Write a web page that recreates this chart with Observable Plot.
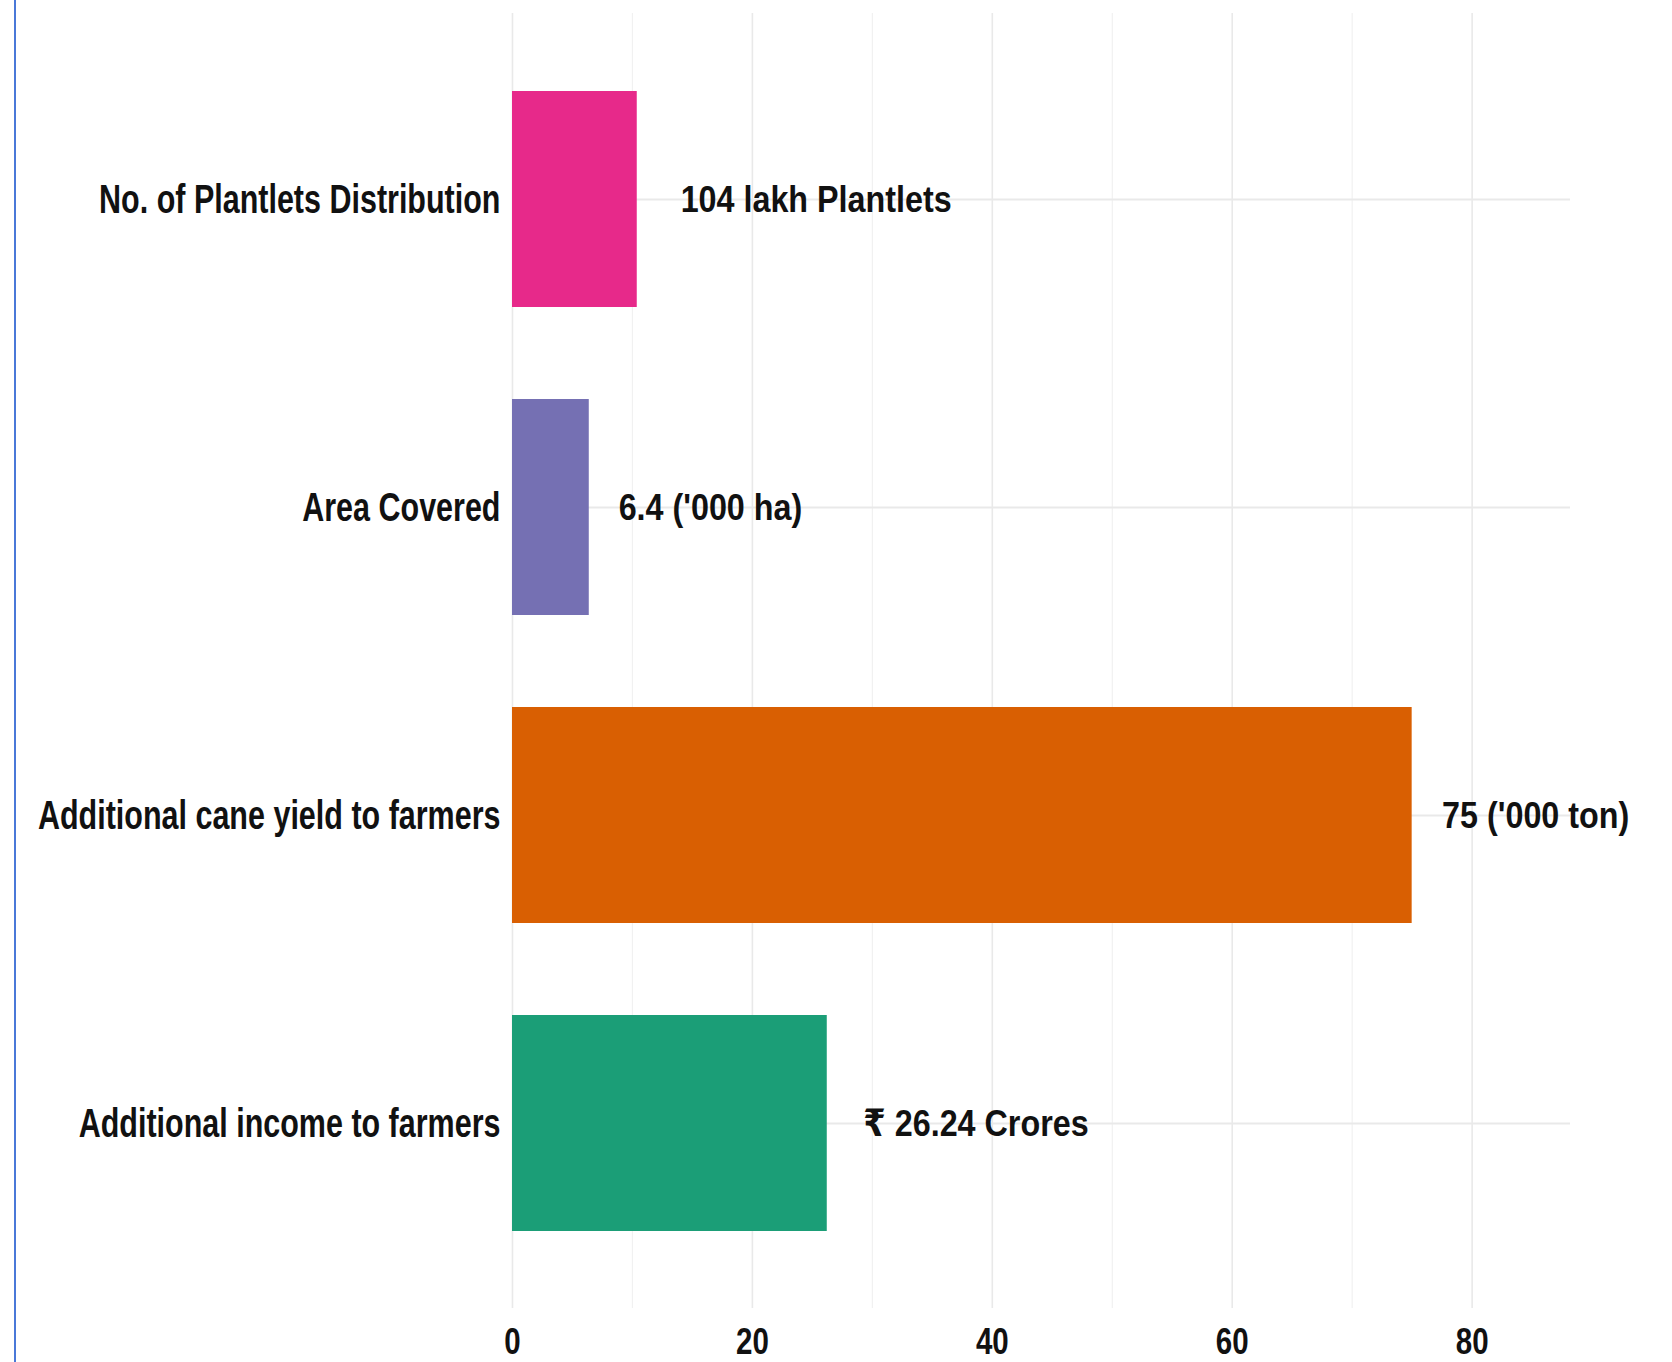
<!DOCTYPE html>
<html>
<head>
<meta charset="utf-8">
<script src="https://cdn.jsdelivr.net/npm/d3@7"></script>
<script src="https://cdn.jsdelivr.net/npm/@observablehq/plot@0.6"></script>
<style>
  html, body { margin: 0; padding: 0; background: #ffffff; }
  #wrap { position: relative; width: 1672px; height: 1362px; overflow: hidden; background: #fff; }
  #edge { position: absolute; left: 14px; top: 0; width: 2px; height: 1362px; background: #4a78d8; z-index: 2; }
  #wrap svg { position: absolute; left: 0; top: 0; z-index: 1; }
</style>
</head>
<body>
<div id="wrap"><div id="edge"></div></div>
<script>
const categories = [
  "No. of Plantlets Distribution",
  "Area Covered",
  "Additional cane yield to farmers",
  "Additional income to farmers"
];
const values = [10.4, 6.4, 75, 26.24];
const valueLabels = ["104 lakh Plantlets", "6.4 ('000 ha)", "75 ('000 ton)", "\u20B9 26.24 Crores"];
const barColors = ["#e7298a", "#7570b3", "#d95f02", "#1b9e77"];
const xTicks = [0, 20, 40, 60, 80];
const xMinorTicks = [10, 30, 50, 70];

const data = categories.map((c, i) => ({category: c, value: values[i], label: valueLabels[i]}));

const chart = Plot.plot({
  width: 1672,
  height: 1362,
  marginLeft: 512,
  marginRight: 102,
  marginTop: 13,
  marginBottom: 54,
  style: {background: "white", fontFamily: "'Liberation Sans', Arial, 'DejaVu Sans', sans-serif", color: "#111"},
  x: {domain: [0, 88.2]},
  y: {domain: categories, paddingInner: 0.3, paddingOuter: 0.25},
  color: {domain: categories, range: barColors},
  marks: [
    Plot.ruleX(xMinorTicks, {stroke: "#f1f1f1", strokeWidth: 1.2}),
    Plot.gridX(xTicks, {stroke: "#e9e9e9", strokeOpacity: 1, strokeWidth: 1.6}),
    Plot.gridY({stroke: "#e9e9e9", strokeOpacity: 1, strokeWidth: 1.8}),
    Plot.barX(data, {x: "value", y: "category", fill: "category"}),
    Plot.text(data, {x: "value", y: "category", text: "label", textAnchor: "start",
      fontSize: 32.3, fontWeight: "bold", fill: "#111"}),
    Plot.axisY({tickSize: 0, tickPadding: 12, fontSize: 30.5, fontWeight: "bold", label: null, fill: "#111"}),
    Plot.axisX(xTicks, {tickSize: 0, tickPadding: 22, fontSize: 29.5, fontWeight: "bold", label: null, fill: "#111"})
  ]
});

document.getElementById("wrap").appendChild(chart);

function stretch(selector, k, shiftFrac) {
  chart.querySelectorAll(selector).forEach(t => {
    const b = t.getBBox();
    const cy = b.y + b.height / 2;
    const dx = (shiftFrac || 0) * b.width;
    const tr = t.getAttribute("transform") || "";
    t.setAttribute("transform", `${tr} translate(${dx},${cy}) scale(1,${k}) translate(0,${-cy})`);
  });
}
stretch('g[aria-label="text"] text', 1.17, 0.16);
stretch('g[aria-label="y-axis tick label"] text', 1.33, 0);
stretch('g[aria-label="x-axis tick label"] text', 1.27, 0);
</script>
</body>
</html>
